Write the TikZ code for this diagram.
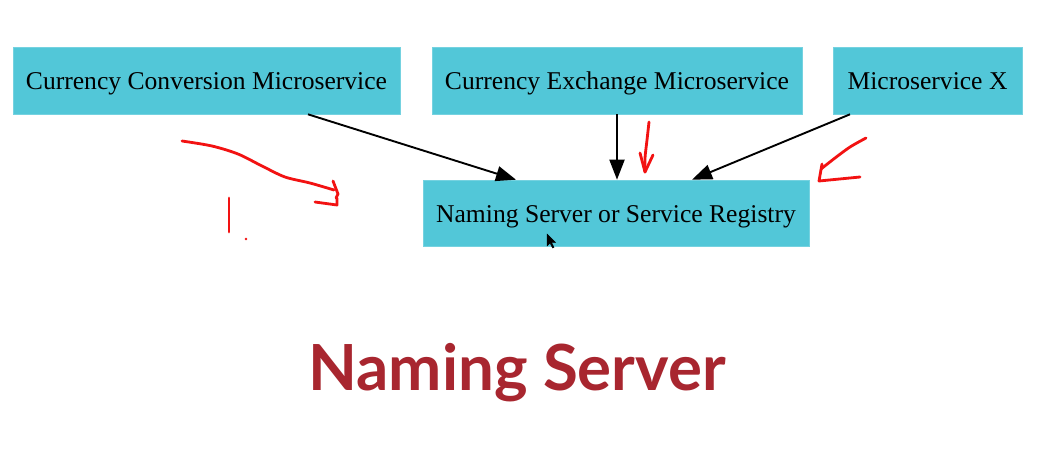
\documentclass[tikz,border=0pt]{standalone}
\usepackage{fontspec}
\setmainfont{Liberation Serif}
\newfontfamily\titlefont{Lato}
\usetikzlibrary{arrows.meta}
\definecolor{boxcyan}{HTML}{52C7D8}
\definecolor{titlered}{HTML}{A8262F}
\definecolor{penred}{HTML}{F21212}
\tikzset{
  svc/.style={fill=boxcyan, draw=boxcyan!80!white, line width=0.6pt, inner sep=0pt, text height=18pt, text depth=0pt, font=\fontsize{25.6}{28}\selectfont, text=black},
  conn/.style={line width=1.9pt, -{Triangle[length=20pt,width=15pt]}, shorten >=0pt},
  pen/.style={penred, line width=2.8pt, line cap=round, line join=round}
}
\begin{document}
\begin{tikzpicture}[x=1pt,y=-1pt]
\useasboundingbox (0,0) rectangle (1064,456);
\fill[white] (0,0) rectangle (1064,456);
\node[svc, minimum width=387pt, minimum height=67pt] (b1) at (206.5,80.5) {Currency Conversion Microservice};
\node[svc, minimum width=370pt, minimum height=67pt] (b2) at (617,80.5) {Currency Exchange Microservice};
\node[svc, minimum width=189pt, minimum height=67pt] (b3) at (927.5,80.5) {Microservice X};
\node[svc, minimum width=386pt, minimum height=66pt] (b4) at (616,213) {Naming Server or Service Registry};
\draw[conn] ([xshift=101.5pt]b1.south) -- ([xshift=-100pt]b4.north);
\draw[conn] (b2.south) -- (b2.south |- b4.north);
\draw[conn] ([xshift=-77.5pt]b3.south) -- ([xshift=76pt]b4.north);
\node[font=\titlefont\bfseries\fontsize{63.6}{66}\selectfont, text=titlered] (title) at (517,373) {Naming Server};
% red pen annotations
\draw[pen] plot[smooth] coordinates {(182,141) (212,146) (238,154) (262,166) (285,177) (310,183) (334,190)};
\draw[pen] (333,181) -- (338,194) -- (336,198);
\draw[pen] (315,202) -- (337,205) -- (337,198);
\draw[pen] (229,198) -- (229,232);
\fill[penred] (246,239) circle (1.3pt);
\draw[pen] plot[smooth] coordinates {(649,122) (647,140) (645,158) (645,172)};
\draw[pen] (640,153) -- (645,172) -- (653,155);
\draw[pen] plot[smooth] coordinates {(866,138) (850,147) (835,158) (821,169)};
\draw[pen] (822,164) -- (819,181) -- (860,177);
% mouse cursor
\filldraw[black, line width=0.4pt] (547,234) -- (547,246) -- (550,243) -- (552.5,248) -- (554,247.3) -- (551.5,242.5) -- (555.5,242.5) -- cycle;
\end{tikzpicture}
\end{document}
